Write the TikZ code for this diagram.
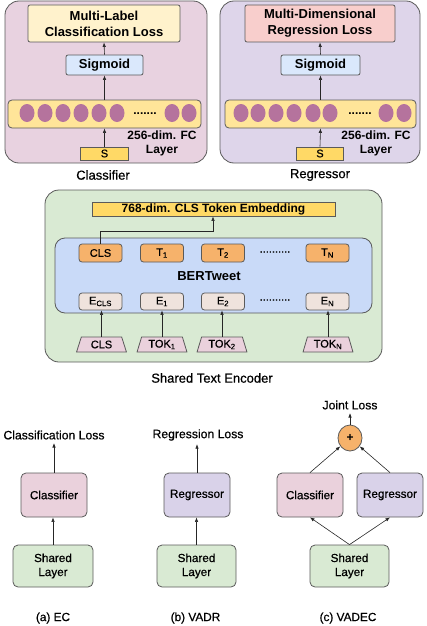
\documentclass[tikz,border=0pt]{standalone}
\usepackage{fontspec}
\setmainfont{Liberation Sans}
\newfontfamily\medfont[FakeBold=0.6]{Liberation Sans}
\usetikzlibrary{shapes.geometric,arrows.meta}
\definecolor{edge}{HTML}{5A5A5A}
\definecolor{clspanel}{HTML}{E8D2E0}
\definecolor{regpanel}{HTML}{DED5EA}
\definecolor{lossyel}{HTML}{FFF2CC}
\definecolor{losspink}{HTML}{F8CECC}
\definecolor{sigblue}{HTML}{DAE8FC}
\definecolor{fcyel}{HTML}{FFE599}
\definecolor{syel}{HTML}{FFD966}
\definecolor{neuron}{HTML}{B5739D}
\definecolor{encgreen}{HTML}{D9EAD3}
\definecolor{bertblue}{HTML}{C9DAF8}
\definecolor{tokorange}{HTML}{F6B26B}
\definecolor{embbeige}{HTML}{EFE3DD}
\definecolor{tokpink}{HTML}{EAD1DC}
\definecolor{clsbox}{HTML}{EAD1DC}
\definecolor{regbox}{HTML}{D9D2E9}
\definecolor{sharedbox}{HTML}{D9EAD3}
\begin{document}
\begin{tikzpicture}[x=1pt,y=-1pt,
  panel/.style={draw=edge,line width=0.8pt,rounded corners=14pt,inner sep=0pt},
  box/.style={draw=edge,line width=0.8pt,rounded corners=2pt,inner sep=0pt,align=center},
  smallbox/.style={box,rounded corners=3pt},
  bigtext/.style={font=\bfseries\fontsize{13}{16}\selectfont},
  midtext/.style={font=\bfseries\fontsize{12}{14}\selectfont},
  toktext/.style={font=\medfont\fontsize{11}{13}\selectfont},
  captext/.style={font=\medfont\fontsize{13}{15}\selectfont},
  subtext/.style={font=\medfont\fontsize{11.8}{14}\selectfont},
  lowtext/.style={font=\medfont\fontsize{12.2}{14}\selectfont},
  trap/.style={draw=edge,line width=0.8pt,fill=tokpink,shape=trapezium,trapezium stretches=true,
     trapezium left angle=72,trapezium right angle=72,minimum width=50,minimum height=15,inner sep=0pt,
     font=\medfont\fontsize{11}{13}\selectfont},
  lowbox/.style={draw=edge,line width=0.8pt,rounded corners=5pt,inner sep=0pt,align=center,
     minimum height=44,minimum width=66,font=\medfont\fontsize{11.7}{14}\selectfont},
  arr/.style={-{Latex[length=4.5pt,width=3.5pt]},line width=0.6pt,black!85},
  neu/.style={fill=neuron}
]
\useasboundingbox (0,0) rectangle (426,626);

% ---------------- Classifier panel ----------------
\node[panel,fill=clspanel,minimum width=202,minimum height=162] (clsP) at (106,82) {};
\node[box,fill=lossyel,minimum width=152,minimum height=37,bigtext] (clsLoss) at (104,23.5) {Multi-Label\\Classification Loss};
\node[box,fill=sigblue,minimum width=77,minimum height=20,bigtext] (clsSig) at (104.5,65) {Sigmoid};
\node[box,fill=fcyel,minimum width=193,minimum height=28,rounded corners=4pt] (clsFC) at (104.5,114) {};
\foreach \cx in {27,45,63,81,99,117,172,189} \fill[neu] (\cx,113) ellipse (7.5 and 9);
\node[midtext] (clsDots) at (145,114) {.......};
\node[midtext,align=center] (clsFCtxt) at (162,143) {256-dim. FC\\Layer};
\node[box,fill=syel,minimum width=48,minimum height=13,rounded corners=0pt,toktext] (clsS) at (104.5,153.5) {S};
\node[captext] (clsLbl) at (103,175) {Classifier};
\draw[arr] (clsS.north) -- (clsFC.south);
\draw[arr] (clsFC.north) -- (clsSig.south);
\draw[arr] (clsSig.north) -- (clsLoss.south);

% ---------------- Regressor panel ----------------
\node[panel,fill=regpanel,minimum width=200,minimum height=162] (regP) at (320,82) {};
\node[box,fill=losspink,minimum width=150,minimum height=37,bigtext] (regLoss) at (320,23.5) {Multi-Dimensional\\Regression Loss};
\node[box,fill=sigblue,minimum width=79,minimum height=20,bigtext] (regSig) at (320.5,65) {Sigmoid};
\node[box,fill=fcyel,minimum width=191,minimum height=28,rounded corners=4pt] (regFC) at (320.5,114) {};
\foreach \cx in {241,258,276,294,313,330,386,404} \fill[neu] (\cx,113) ellipse (7.5 and 9);
\node[midtext] (regDots) at (360,114) {.......};
\node[midtext,align=center] (regFCtxt) at (376,143) {256-dim. FC\\Layer};
\node[box,fill=syel,minimum width=47,minimum height=13,rounded corners=0pt,toktext] (regS) at (320,153.5) {S};
\node[captext] (regLbl) at (320,175) {Regressor};
\draw[arr] (regS.north) -- (regFC.south);
\draw[arr] (regFC.north) -- (regSig.south);
\draw[arr] (regSig.north) -- (regLoss.south);

% ---------------- Shared text encoder ----------------
\node[panel,fill=encgreen,minimum width=337,minimum height=172] (encP) at (213.5,276) {};
\node[box,fill=syel,minimum width=243,minimum height=14,rounded corners=0pt,midtext] (emb) at (213.5,209) {768-dim. CLS Token Embedding};
\node[panel,fill=bertblue,minimum width=317,minimum height=75,rounded corners=10pt] (bert) at (213.5,275.5) {};
\node[font=\bfseries\fontsize{13}{15}\selectfont] (bertLbl) at (209,276) {BERTweet};
\node[smallbox,fill=tokorange,minimum width=43,minimum height=18,toktext] (tCLS) at (100.5,253) {CLS};
\node[smallbox,fill=tokorange,minimum width=43,minimum height=18,toktext] (t1) at (162,253) {T\textsubscript{1}};
\node[smallbox,fill=tokorange,minimum width=43,minimum height=18,toktext] (t2) at (223,253) {T\textsubscript{2}};
\node[smallbox,fill=tokorange,minimum width=43,minimum height=18,toktext] (tN) at (327.5,253) {T\textsubscript{N}};
\node[toktext] (tDots) at (275,252) {..........};
\node[smallbox,fill=embbeige,minimum width=43,minimum height=17,toktext] (eCLS) at (100.5,301.5) {E\textsubscript{CLS}};
\node[smallbox,fill=embbeige,minimum width=43,minimum height=17,toktext] (e1) at (162,301.5) {E\textsubscript{1}};
\node[smallbox,fill=embbeige,minimum width=43,minimum height=17,toktext] (e2) at (223,301.5) {E\textsubscript{2}};
\node[smallbox,fill=embbeige,minimum width=43,minimum height=17,toktext] (eN) at (327.5,301.5) {E\textsubscript{N}};
\node[toktext] (eDots) at (275,300) {..........};
\node[trap] (kCLS) at (101.5,344.5) {CLS};
\node[trap] (k1) at (162,344.5) {TOK\textsubscript{1}};
\node[trap] (k2) at (222,344.5) {TOK\textsubscript{2}};
\node[trap] (kN) at (328,344.5) {TOK\textsubscript{N}};
\draw[arr] (kCLS.north) -- (kCLS.north |- eCLS.south);
\draw[arr] (k1.north) -- (k1.north |- e1.south);
\draw[arr] (k2.north) -- (k2.north |- e2.south);
\draw[arr] (kN.north) -- (kN.north |- eN.south);
\coordinate (cbend) at (213,231);
\draw[arr] (tCLS.north) |- (cbend) -- (cbend |- emb.south);
\node[captext] (encLbl) at (212,378) {Shared Text Encoder};

% ---------------- (a) EC ----------------
\node[lowtext] (aLoss) at (54,435) {Classification Loss};
\node[lowbox,fill=clsbox] (aCls) at (54,495) {Classifier};
\node[lowbox,fill=sharedbox,minimum width=80,minimum height=42] (aSh) at (53,566) {Shared\\Layer};
\node[subtext] (aLbl) at (53,618) {(a) EC};
\draw[arr] (aSh.north) -- (aSh.north |- aCls.south);
\draw[arr] (aCls.north) -- (aCls.north |- aLoss.south);

% ---------------- (b) VADR ----------------
\node[lowtext] (bLoss) at (198,435) {Regression Loss};
\node[lowbox,fill=regbox] (bReg) at (197,495) {Regressor};
\node[lowbox,fill=sharedbox,minimum width=79,minimum height=42] (bSh) at (196.5,566) {Shared\\Layer};
\node[subtext] (bLbl) at (195.5,618) {(b) VADR};
\draw[arr] (bSh.north) -- (bSh.north |- bReg.south);
\draw[arr] (bReg.north) -- (bReg.north |- bLoss.south);

% ---------------- (c) VADEC ----------------
\node[lowtext] (cLoss) at (350,405) {Joint Loss};
\node[draw=edge,line width=0.8pt,fill=tokorange,ellipse,minimum width=24,minimum height=26,inner sep=0pt,font=\bfseries\fontsize{12}{14}\selectfont] (plus) at (350,438) {+};
\node[lowbox,fill=clsbox] (cCls) at (310,495) {Classifier};
\node[lowbox,fill=regbox] (cReg) at (390,495) {Regressor};
\node[lowbox,fill=sharedbox,minimum width=79,minimum height=42] (cSh) at (349.5,566) {Shared\\Layer};
\node[subtext] (cLbl) at (348,618) {(c) VADEC};
\draw[arr] (cSh.north) -- (cCls.south);
\draw[arr] (cSh.north) -- (cReg.south);
\draw[arr] (cCls.north) -- (plus);
\draw[arr] (cReg.north) -- (plus);
\draw[arr] (plus.north) -- (cLoss.south);
\end{tikzpicture}
\end{document}
